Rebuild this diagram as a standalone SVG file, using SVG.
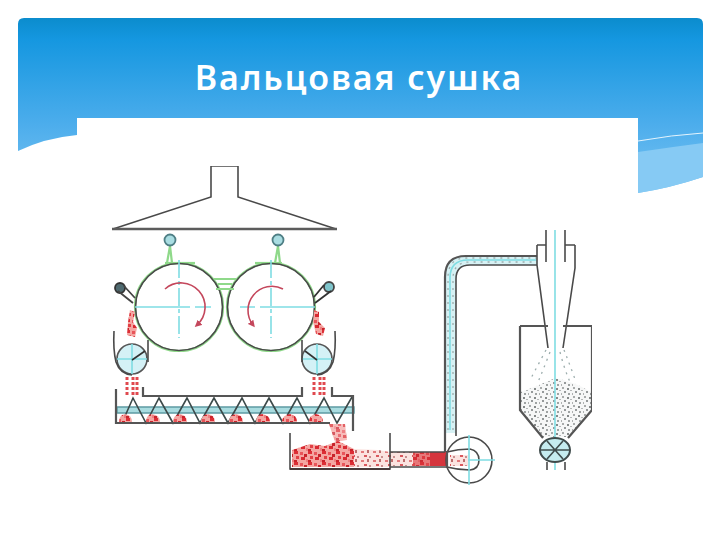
<svg xmlns="http://www.w3.org/2000/svg" width="720" height="540" viewBox="0 0 720 540">
<defs>
<linearGradient id="sky" x1="0" y1="18" x2="0" y2="195" gradientUnits="userSpaceOnUse">
<stop offset="0" stop-color="#0b8ccd"/><stop offset="0.12" stop-color="#1597e0"/><stop offset="0.6" stop-color="#4cadec"/><stop offset="1" stop-color="#7cc5f2"/>
</linearGradient>
<pattern id="redSpeck" width="14" height="11" patternUnits="userSpaceOnUse">
<rect width="14" height="11" fill="#f4a6a2"/>
<rect x="0" y="0" width="4" height="3" fill="#dc2f36"/><rect x="6" y="1" width="3" height="3" fill="#e8555a"/><rect x="10" y="3" width="3" height="3" fill="#c9242b"/>
<rect x="2" y="5" width="3" height="3" fill="#e23f45"/><rect x="7" y="6" width="4" height="3" fill="#d92a32"/><rect x="12" y="8" width="2" height="3" fill="#ee7f80"/><rect x="0" y="9" width="3" height="2" fill="#c9242b"/>
</pattern>
<pattern id="paleRed" width="12" height="9" patternUnits="userSpaceOnUse">
<rect width="12" height="9" fill="#fbe3e0"/>
<rect x="1" y="1" width="3" height="2" fill="#e27a7c"/><rect x="7" y="0" width="2" height="3" fill="#bd6d6d"/><rect x="4" y="5" width="3" height="2" fill="#d9595d"/><rect x="9" y="6" width="2" height="2" fill="#c98f8f"/>
</pattern>
<pattern id="greySpeck" width="11" height="9" patternUnits="userSpaceOnUse">
<rect width="11" height="9" fill="#f6f7f7"/>
<rect x="1" y="0" width="2" height="2" fill="#a8abab"/><rect x="6" y="1" width="2" height="2" fill="#858989"/><rect x="9" y="3" width="2" height="1" fill="#b4b7b7"/><rect x="3" y="4" width="2" height="2" fill="#95999a"/><rect x="0" y="6" width="1" height="2" fill="#aeb1b1"/><rect x="7" y="6" width="2" height="2" fill="#9fa3a3"/>
</pattern>
<marker id="ah" markerWidth="7" markerHeight="7" refX="4" refY="3.5" orient="auto" markerUnits="userSpaceOnUse"><path d="M0 0L7 3.5L0 7Z" fill="#c4475c"/></marker>
<filter id="soft" x="0" y="0" width="1" height="1"><feGaussianBlur stdDeviation="0.7"/></filter>
</defs>
<style>
.k{fill:none;stroke:#4a4a4a;stroke-width:1.6}
.kw{fill:none;stroke:#555;stroke-width:2.2}
.g{fill:none;stroke:#8fd98a;stroke-width:2.2}
.c{fill:none;stroke:#7fdde3;stroke-width:1.6}
.cd{fill:none;stroke:#7fdde3;stroke-width:1.6;stroke-dasharray:18 3 4 3}
.r{fill:none;stroke:#c4475c;stroke-width:1.6}
.dr{fill:none;stroke:#e04a50;stroke-width:3;stroke-dasharray:3 2}
.dp{fill:none;stroke:#9cadad;stroke-width:1.3;stroke-dasharray:2 5}
.title{font-family:"Noto Sans","Open Sans",sans-serif;font-size:34px;font-weight:600;fill:#fff;letter-spacing:1.9px}
</style>
<g id="background">
<rect width="720" height="540" fill="#fff"/>
<path d="M24 18H697Q703 18 703 24V177Q670 188 638 193V118H77V135Q45 138 18 151V24Q18 18 24 18Z" fill="url(#sky)"/>
<path d="M638 152Q672 147 703 143V177Q670 188 638 193Z" fill="#86caf4"/>
<path d="M638 141Q672 135 703 133" fill="none" stroke="#e4f4fd" stroke-width="1"/>
</g>
<text class="title" x="359" y="90" text-anchor="middle">Вальцовая сушка</text>
<g filter="url(#soft)">
<g id="hood">
<path class="k" d="M211 166H238M211 166V197L113 229M238 166V197L336 229"/>
<path d="M112 229H337" fill="none" stroke="#5c5c5c" stroke-width="2.4"/>
</g>
<g id="roller-left">
<path class="g" d="M170 246L167 263M170 246L172 263"/>
<path class="g" d="M165 263H195"/>
<circle cx="179" cy="307" r="44" class="g" stroke-width="3"/>
<circle cx="179" cy="307" r="43.5" class="k"/>
<path class="c" d="M135 307H190M195 307H211"/>
<path class="cd" d="M179 260V338"/>
<path class="r" d="M165 289A24 24 0 0 1 197 325" marker-end="url(#ah)"/>
<circle cx="170" cy="240" r="5.5" fill="#a9dde2" stroke="#4f7f85" stroke-width="1.8"/>
</g>
<g id="roller-right">
<path class="g" d="M278 246L275 263M278 246L280 263"/>
<path class="g" d="M255 263H282"/>
<circle cx="271" cy="307" r="44" class="g" stroke-width="3"/>
<circle cx="271" cy="307" r="43.5" class="k"/>
<path class="c" d="M240 307H255M260 307H315"/>
<path class="cd" d="M271 260V338"/>
<path class="r" d="M283 289A24 24 0 0 0 253 325" marker-end="url(#ah)"/>
<circle cx="278" cy="240" r="5.5" fill="#a9dde2" stroke="#4f7f85" stroke-width="1.8"/>
</g>
<g id="bridge"><path class="g" d="M214 279H236M218 284H232M216 289H234"/></g>
<g id="knife-left">
<circle cx="120" cy="288" r="5" fill="#4f6a70" stroke="#333" stroke-width="1.8"/>
<path d="M118 291L133 303M124 286L135 298" fill="none" stroke="#444" stroke-width="1.8"/>
<path d="M130 310L135 312L133 322L137 328L135 337L127 335L128 322Z" fill="url(#redSpeck)"/>
</g>
<g id="knife-right">
<circle cx="329" cy="287" r="5" fill="#7fc5cc" stroke="#444" stroke-width="1.8"/>
<path d="M331 291L315 303M324 285L314 297" fill="none" stroke="#333" stroke-width="1.8"/>
<path d="M314 310L319 312L319 322L325 328L323 336L316 334L313 322Z" fill="url(#redSpeck)"/>
</g>
<g id="small-roller-left">
<circle cx="132" cy="359" r="15" fill="#d4f1f6" stroke="#555" stroke-width="1.6"/>
<path class="c" d="M117 359H147M132 344V374"/>
<path d="M132 360L145 351" fill="none" stroke="#333" stroke-width="1.6"/>
<path class="k" d="M114 331Q113 350 116 362Q120 374 132 375M148 340V362"/>
<path class="dr" d="M127 377V397M133 377V397M137 377V397"/>
</g>
<g id="small-roller-right">
<circle cx="317" cy="359" r="15" fill="#d4f1f6" stroke="#555" stroke-width="1.6"/>
<path class="c" d="M302 359H332M317 344V374"/>
<path d="M317 360L305 351" fill="none" stroke="#333" stroke-width="1.6"/>
<path class="k" d="M335 331Q336 350 333 362Q329 374 317 375M302 340V362"/>
<path class="dr" d="M314 377V397M320 377V397M324 377V397"/>
</g>
<g id="conveyor">
<path d="M117 407H354V413H117Z" fill="#a9dce0" stroke="#5d9aa2" stroke-width="1.4"/>
<path d="M122 423L133 398L146 423L159 398L173 423L187 398L200 423L214 398L228 423L242 398L255 423L269 398L283 423L297 398L310 423L324 398L337 423L352 397" fill="none" stroke="#3c4a4a" stroke-width="1.6"/>
<path class="kw" d="M116 389V423H330M143 387V396H302V387M332 387V396H353V431"/>
<g fill="url(#redSpeck)">
<path d="M119 422Q119 415 125 414Q132 415 132 422Z"/><path d="M146 422Q146 415 152 414Q160 415 160 422Z"/><path d="M173 422Q173 415 180 414Q187 415 187 422Z"/><path d="M201 422Q201 415 208 414Q215 415 215 422Z"/>
<path d="M229 422Q229 415 236 414Q243 415 243 422Z"/><path d="M256 422Q256 415 262 414Q270 415 270 422Z"/><path d="M282 422Q282 415 290 414Q297 415 297 422Z"/><path d="M309 422Q309 415 316 414Q323 415 323 422Z"/>
</g>
</g>
<g id="collector">
<path d="M329 424L345 424L347 440L335 442Z" fill="url(#redSpeck)" opacity="0.75"/>
<path d="M292 467V450L310 444L325 446L338 441L350 447L356 450V467Z" fill="url(#redSpeck)"/>
<path d="M354 449L378 450L390 452L415 452V466L390 466V467H354Z" fill="url(#paleRed)"/>
<path d="M413 452H446V466H413Z" fill="#d5343c"/>
<path d="M413 452H430V466H413Z" fill="url(#redSpeck)" opacity="0.6"/>
<path class="k" d="M290 433V469H390V433"/>
<path d="M290 469H390" fill="none" stroke="#4a3a3a" stroke-width="2"/>
<path class="k" d="M390 452H445M390 467H447"/>
</g>
<g id="pipe">
<path d="M445 433V277Q445 256 466 256H537V265H470Q456 265 456 279V433Z" fill="#d6f1f4"/>
<path class="kw" d="M445 452V277Q445 256 466 256H537"/>
<path class="k" d="M456 436V279Q456 265 470 265H537"/>
<path class="c" d="M450 430V278Q450 260 468 260H536"/>
<path class="dp" d="M448 430V278Q448 258 466 258H536M453 430V279Q453 262 470 262H536"/>
</g>
<g id="fan">
<circle cx="469" cy="460" r="23" class="k"/>
<path class="k" d="M447 452Q458 449 470 449Q479 451 479 460Q479 469 470 470Q458 470 447 467"/>
<path class="kw" d="M447 451V468"/>
<path d="M450 455H468V466H450Z" fill="url(#paleRed)"/>
<path class="c" d="M469 435V485M468 460H495"/>
</g>
<g id="cyclone">
<path class="k" d="M537 245V265L548 348M575 245V268L563 348M537 245H546M565 245H575"/>
<path class="k" d="M546 230V262M565 230V262"/>
</g>
<g id="hopper">
<path d="M521 392Q540 385 555 378Q575 382 591 392L591 410L568 437H543L521 410Z" fill="url(#greySpeck)"/>
<path class="dp" d="M546 350Q538 365 530 380M564 350Q570 365 576 382M550 352Q544 368 538 382M560 352Q564 368 570 382"/>
<path class="kw" d="M520 326H548M563 326H592M520 326V410L543 438M592 326V410L568 438"/>
<path class="c" d="M555 230V470"/>
</g>
<g id="valve">
<ellipse cx="555" cy="450" rx="15" ry="12" fill="#c5ecef" stroke="#3f4c4c" stroke-width="2"/>
<path d="M541 450H569M547 441L563 459M563 441L547 459" fill="none" stroke="#3f4c4c" stroke-width="1.6"/>
<path class="k" d="M547 462V470M565 462V470"/>
</g>
</g>
</svg>
